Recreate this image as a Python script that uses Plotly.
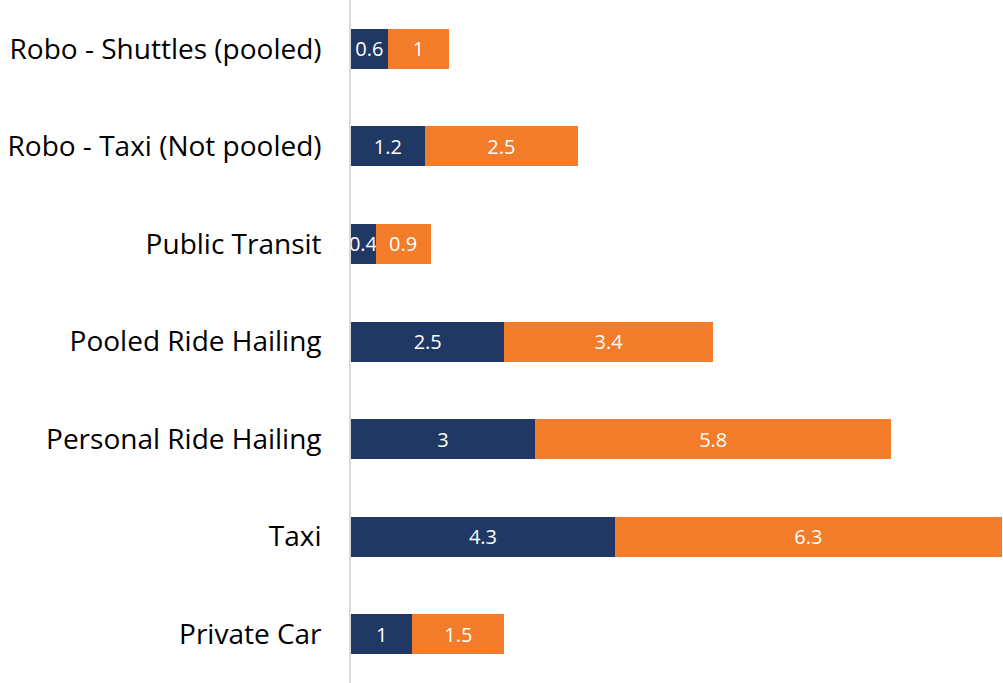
import plotly.graph_objects as go

# Categories, bottom to top as drawn
categories = ['Private Car', 'Taxi', 'Personal Ride Hailing', 'Pooled Ride Hailing',
              'Public Transit', 'Robo - Taxi (Not pooled)', 'Robo - Shuttles (pooled)']
series_a = [1, 4.3, 3, 2.5, 0.4, 1.2, 0.6]
series_b = [1.5, 6.3, 5.8, 3.4, 0.9, 2.5, 1]

fig = go.Figure()

fig.add_trace(go.Bar(
    y=categories, x=series_a, orientation='h', name='A',
    marker=dict(color='#203864', line=dict(width=0)),
    text=[str(v) for v in series_a], textposition='inside', insidetextanchor='middle',
    textangle=0, constraintext='none',
    textfont=dict(color='white', size=20, family='Open Sans'),
    cliponaxis=False
))
fig.add_trace(go.Bar(
    y=categories, x=series_b, orientation='h', name='B',
    marker=dict(color='#F27C2A', line=dict(width=0)),
    text=[str(v) for v in series_b], textposition='inside', insidetextanchor='middle',
    textangle=0, constraintext='none',
    textfont=dict(color='white', size=20, family='Open Sans'),
    cliponaxis=False
))

fig.update_layout(
    barmode='stack',
    bargap=0.59,
    width=1003, height=683,
    margin=dict(l=351, r=0, t=0, b=0),
    plot_bgcolor='white', paper_bgcolor='white',
    showlegend=False,
    uniformtext=dict(minsize=20, mode='show'),
    font=dict(family='Open Sans', color='black'),
    xaxis=dict(range=[0, 10.62], visible=False, fixedrange=True),
    yaxis=dict(
        showline=True, linecolor='#D9D9D9', linewidth=2,
        showgrid=False, ticks='', ticksuffix='   ',
        tickfont=dict(size=28, family='Open Sans', color='black'),
        automargin=False, fixedrange=True
    ),
)

# drop the default page margin so the chart sits flush in the window
fig.write_html('out.html', config={'displayModeBar': False},
               post_script="document.body.style.margin='0';")
